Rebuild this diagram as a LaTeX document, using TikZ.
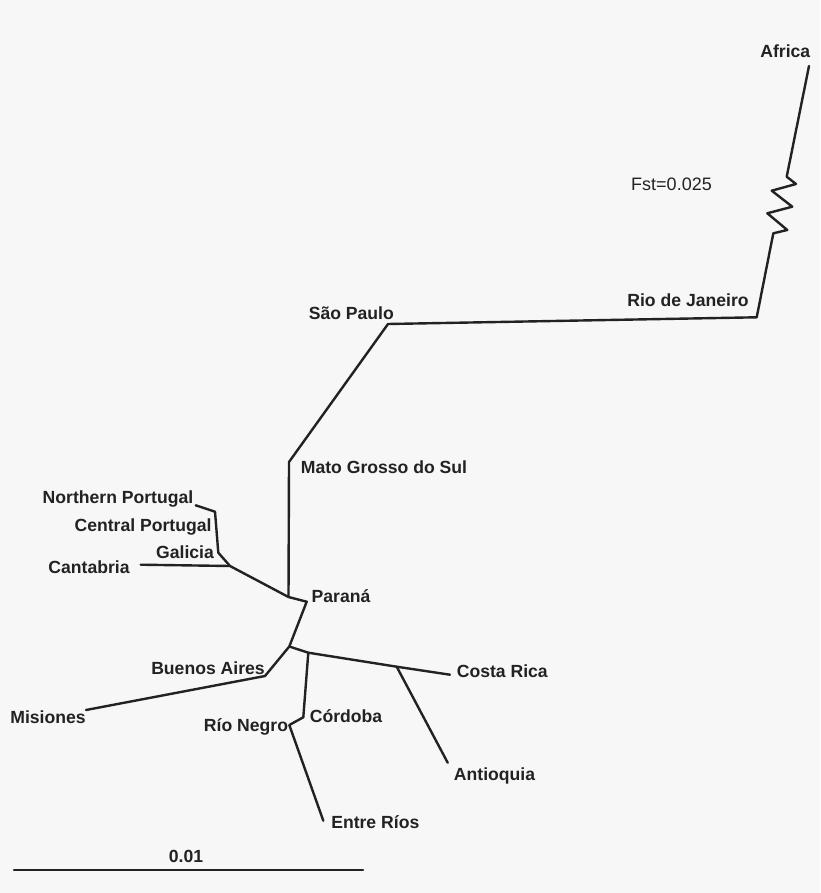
\documentclass[tikz,border=0pt]{standalone}
\usepackage{fontspec}
\setmainfont{Liberation Sans}
\definecolor{bg}{HTML}{F7F7F7}
\definecolor{ink}{HTML}{222222}
\tikzset{
  lab/.style={inner sep=0pt,text=ink,font=\fontsize{17.6}{20}\selectfont\bfseries,text height=11.5pt,text depth=3.5pt,anchor=center},
  plain/.style={inner sep=0pt,text=ink,font=\fontsize{18}{20}\selectfont,text height=11.5pt,text depth=3.5pt,anchor=center},
  branch/.style={draw=ink,line width=2.4pt,line join=round,line cap=round}
}
\begin{document}
\begin{tikzpicture}[x=1pt,y=-1pt]
\path[fill=bg] (0,0) rectangle (820,893);
\useasboundingbox (0,0) rectangle (820,893);
% labels
\node[lab] (africa) at (785.3,53.5) {Africa};
\node[plain] (fst) at (671.5,186.5) {Fst=0.025};
\node[lab] (rio) at (688,302.5) {Rio de Janeiro};
\node[lab] (sp) at (351.3,315.5) {São Paulo};
\node[lab] (mgs) at (384,469.5) {Mato Grosso do Sul};
\node[lab] (np) at (118,499.5) {Northern Portugal};
\node[lab] (cp) at (143,527.5) {Central Portugal};
\node[lab] (gal) at (185,554.5) {Galicia};
\node[lab] (cant) at (89,569.5) {Cantabria};
\node[lab] (par) at (341,598.5) {Paraná};
\node[lab] (ba) at (208,670.5) {Buenos Aires};
\node[lab] (mis) at (48,719.5) {Misiones};
\node[lab] (rn) at (246,727.5) {Río Negro};
\node[lab] (cor) at (346,718.5) {Córdoba};
\node[lab] (cr) at (502.3,673.5) {Costa Rica};
\node[lab] (ant) at (494.5,776.5) {Antioquia};
\node[lab] (er) at (375.3,824.5) {Entre Ríos};
\node[lab] (scale) at (186,858.5) {0.01};
% tree points
\coordinate (pAf) at (809,66);
\coordinate (z1) at (786.7,176.7);
\coordinate (z2) at (796,184);
\coordinate (z3) at (771.7,190.7);
\coordinate (z4) at (792.3,206.7);
\coordinate (z5) at (767.3,213.3);
\coordinate (z6) at (787.3,230);
\coordinate (z7) at (773.3,233.3);
\coordinate (pRio) at (756.7,317.3);
\coordinate (pSP) at (388,324);
\coordinate (pMG) at (289,462);
\coordinate (pJ) at (288.5,597);
\coordinate (pPar) at (306.7,601.7);
\coordinate (pLow) at (289.3,646.5);
\coordinate (pBA) at (265,676);
\coordinate (pMis) at (86,710);
\coordinate (pCant) at (230,566);
\coordinate (pGal) at (218.3,552.7);
\coordinate (pCP) at (215,511.7);
\coordinate (pNP) at (195.7,505.3);
\coordinate (pCantEnd) at (140.7,564.7);
\coordinate (pCorTop) at (308.3,652.7);
\coordinate (pAnt) at (396.7,666.7);
\coordinate (pCR) at (450,674.7);
\coordinate (pAntEnd) at (447.7,762.7);
\coordinate (pCor) at (303.3,717.3);
\coordinate (pRN) at (289.3,725);
\coordinate (pER) at (323.3,820.7);
\coordinate (bL) at (14,870);
\coordinate (bR) at (363,870);
% branches
\draw[branch] (pAf) -- (z1) -- (z2) -- (z3) -- (z4) -- (z5) -- (z6) -- (z7) -- (pRio) -- (pSP) -- (pMG) -- (pJ) -- (pPar) -- (pLow) -- (pBA) -- (pMis);
\draw[branch] (pJ) -- (pCant) -- (pGal) -- (pCP) -- (pNP);
\draw[branch] (pCant) -- (pCantEnd);
\draw[branch] (pLow) -- (pCorTop) -- (pAnt) -- (pCR);
\draw[branch] (pAnt) -- (pAntEnd);
\draw[branch] (pCorTop) -- (pCor) -- (pRN) -- (pER);
\draw[branch] (bL) -- (bR);
\end{tikzpicture}
\end{document}
